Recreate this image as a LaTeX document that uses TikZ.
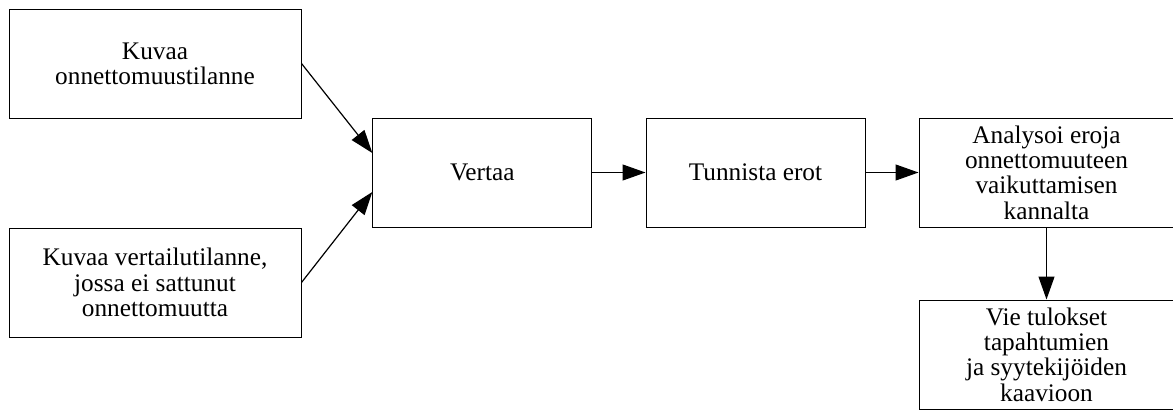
\documentclass[tikz,border=0pt]{standalone}
\usepackage{fontspec}
\setmainfont{Liberation Serif}
\usetikzlibrary{arrows.meta}
\begin{document}
\begin{tikzpicture}[x=1pt,y=-1pt,
  procbox/.style={draw=black, line width=1pt, rectangle, minimum height=109pt,
    inner sep=0pt, align=center, font=\fontsize{25.3pt}{25.3pt}\selectfont},
  flow/.style={line width=1.2pt, -{Triangle[length=23pt,width=16pt]}}]
\useasboundingbox (0,0) rectangle (1173,410);
% process boxes
\node[procbox, minimum width=292pt] (desc) at (155,63.5) {Kuvaa\\onnettomuustilanne};
\node[procbox, minimum width=292pt] (ref) at (155,282.5) {Kuvaa vertailutilanne,\\jossa ei sattunut\\onnettomuutta};
\node[procbox, minimum width=219pt] (cmp) at (482.3,172.5) {Vertaa};
\node[procbox, minimum width=219pt] (diff) at (755.5,172.5) {Tunnista erot};
\node[procbox, minimum width=255pt] (ana) at (1046.5,172.5) {Analysoi eroja\\onnettomuuteen\\vaikuttamisen\\kannalta};
\node[procbox, minimum width=255pt] (out) at (1046.5,354.5) {Vie tulokset\\tapahtumien\\ja syytekijöiden\\kaavioon};
% connectors
\draw[flow] (desc.east) -- ([yshift=19.5pt]cmp.west);
\draw[flow] (ref.east) -- ([yshift=-19.5pt]cmp.west);
\draw[flow] (cmp.east) -- (diff.west);
\draw[flow] (diff.east) -- (ana.west);
\draw[flow] (ana.south) -- (out.north);
\end{tikzpicture}
\end{document}
